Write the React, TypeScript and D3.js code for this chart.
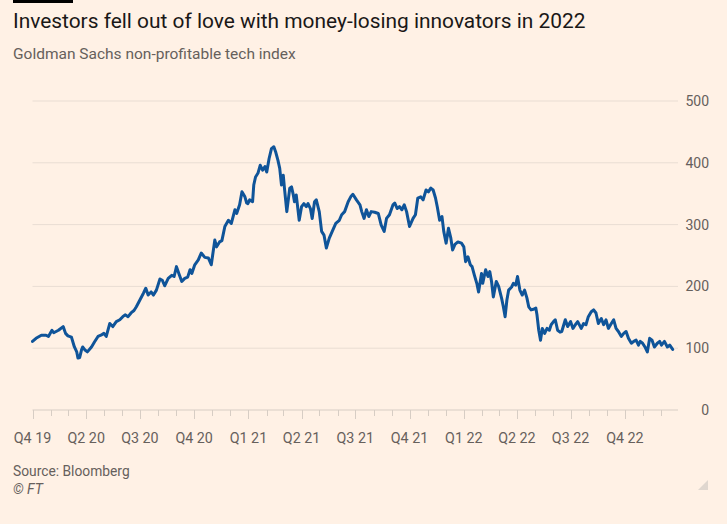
import React from "react";
import * as d3 from "d3";

// ---- data ----
const startDate = "2020-01-01";
// days since startDate
const dayOffsets = [
  0, 6, 15, 23, 27, 33, 36, 44, 52, 56, 60, 66, 71, 75, 77, 80, 83, 85, 89, 93,
  100, 105, 111, 116, 121, 125, 131, 136, 142, 148, 153, 157, 162, 167, 172, 176, 182,
  188, 192, 196, 201, 205, 210, 216, 220, 224, 230, 236, 240, 244, 248, 253, 258, 263,
  267, 270, 275, 281, 286, 292, 298, 303, 309, 312, 317, 321, 326, 332, 337, 343, 346,
  351, 355, 360, 363, 365, 368, 373, 375, 378, 382, 386, 390, 394, 397, 401, 405, 409,
  412, 416, 419, 422, 425, 427, 431, 436, 439, 442, 444, 447, 452, 456, 460, 464, 467,
  471, 474, 478, 481, 486, 490, 494, 498, 503, 508, 514, 520, 524, 529, 535, 540, 543,
  549, 555, 558, 562, 566, 570, 574, 580, 586, 591, 596, 600, 605, 611, 614, 618, 622,
  626, 630, 634, 639, 645, 649, 653, 658, 662, 667, 671, 675, 679, 683, 686, 690, 694,
  697, 701, 705, 709, 712, 716, 721, 727, 731, 734, 738, 742, 745, 749, 753, 756, 761,
  763, 768, 772, 775, 778, 781, 786, 790, 795, 798, 801, 804, 807, 812, 815, 819, 822,
  826, 830, 834, 838, 841, 845, 849, 853, 855, 858, 861, 864, 868, 872, 876, 879, 883,
  886, 890, 894, 897, 903, 907, 912, 916, 920, 924, 930, 934, 938, 942, 947, 951, 955,
  959, 964, 968, 972, 976, 981, 985, 989, 993, 998, 1002, 1006, 1010, 1015, 1019, 1023,
  1027, 1030, 1034, 1038, 1042, 1046, 1050, 1054, 1059, 1063, 1066, 1071, 1076, 1080, 1085,
];
const indexValues = [
  111, 116, 121, 121, 119, 129, 125, 129, 135, 124, 120, 118, 102, 94, 84, 85, 97, 102, 97, 94,
  102, 110, 119, 121, 124, 119, 140, 135, 143, 146, 151, 154, 151, 157, 161, 167, 178,
  189, 197, 186, 191, 186, 194, 212, 210, 201, 213, 218, 216, 232, 221, 208, 213, 215,
  227, 221, 235, 243, 254, 247, 246, 235, 275, 264, 272, 274, 297, 307, 302, 324, 318,
  332, 353, 345, 335, 334, 340, 337, 364, 377, 383, 396, 388, 394, 385, 407, 423, 426,
  418, 404, 391, 364, 380, 359, 321, 359, 361, 348, 337, 348, 307, 329, 334, 329, 334,
  326, 310, 337, 340, 321, 289, 283, 262, 278, 289, 302, 307, 316, 321, 337, 346, 349,
  340, 332, 321, 310, 324, 313, 321, 320, 318, 299, 289, 310, 316, 332, 335, 326, 329,
  324, 332, 321, 297, 310, 316, 343, 345, 340, 356, 353, 359, 356, 343, 329, 307, 313,
  289, 270, 294, 278, 259, 268, 272, 270, 264, 240, 248, 235, 232, 218, 205, 191, 221,
  205, 227, 216, 224, 208, 183, 208, 200, 181, 167, 151, 178, 194, 199, 205, 202, 216,
  194, 186, 194, 181, 167, 162, 163, 165, 154, 129, 113, 132, 124, 132, 129, 138, 143,
  146, 129, 126, 127, 146, 135, 143, 132, 138, 143, 132, 140, 138, 151, 159, 162, 157,
  140, 148, 138, 146, 132, 140, 146, 132, 127, 119, 124, 127, 116, 108, 111, 113,
  105, 111, 108, 102, 94, 116, 113, 102, 108, 111, 105, 111, 102, 105, 98,
];
const yTicks = [0, 100, 200, 300, 400, 500];
const xTickDates = [
  "2020-01-01", "2020-04-01", "2020-07-01", "2020-10-01", "2021-01-01", "2021-04-01",
  "2021-07-01", "2021-10-01", "2022-01-01", "2022-04-01", "2022-07-01", "2022-10-01",
];
const xTickLabels = [
  "Q4 19", "Q2 20", "Q3 20", "Q4 20", "Q1 21", "Q2 21",
  "Q3 21", "Q4 21", "Q1 22", "Q2 22", "Q3 22", "Q4 22",
];
const title = "Investors fell out of love with money-losing innovators in 2022";
const subtitle = "Goldman Sachs non-profitable tech index";
const source = "Source: Bloomberg";
const credit = "© FT";

const W = 727;
const H = 524;
const FONT = "Roboto, 'Noto Sans', sans-serif";

export default function App() {
  const parse = d3.utcParse("%Y-%m-%d");
  const start = parse(startDate) as Date;
  const data = dayOffsets.map((d, i) => ({
    date: d3.utcDay.offset(start, d),
    value: indexValues[i],
  }));

  const x = d3
    .scaleUtc()
    .domain([start, parse("2022-12-30") as Date])
    .range([32.5, 678]);
  const y = d3.scaleLinear().domain([0, 500]).range([410, 101]);

  const line = d3
    .line<{ date: Date; value: number }>()
    .x((d) => x(d.date))
    .y((d) => y(d.value));

  const monthTicks = d3.utcMonth.range(start, parse("2023-01-01") as Date);
  const majorSet = new Set(xTickDates);
  const fmt = d3.utcFormat("%Y-%m-%d");

  const [x0, x1] = x.range();

  return (
    <svg
      width={W}
      height={H}
      style={{ position: "absolute", left: 0, top: 0, display: "block" }}
      fontFamily={FONT}
    >
      <rect x={0} y={0} width={W} height={H} fill="#fff1e5" />
      <rect x={13} y={0} width={60} height={3} fill="#000" />
      <text x={13} y={28} fontSize={20.9} fill="#1a1817">
        {title}
      </text>
      <text x={13} y={58.5} fontSize={15.5} fill="#66605c">
        {subtitle}
      </text>

      {yTicks.map((t) => (
        <g key={t}>
          {t !== 0 && (
            <line x1={x0} x2={x1} y1={y(t)} y2={y(t)} stroke="#e9ddd3" strokeWidth={1} />
          )}
          <text
            x={709}
            y={y(t)}
            dy="0.35em"
            textAnchor="end"
            fontSize={14}
            fill="#66605c"
          >
            {t}
          </text>
        </g>
      ))}

      <line x1={x0} x2={x1} y1={y(0)} y2={y(0)} stroke="#d7cdc4" strokeWidth={1} />
      {monthTicks.map((m) => {
        const major = majorSet.has(fmt(m));
        const xx = Math.round(x(m)) + 0.5;
        return (
          <line
            key={m.toISOString()}
            x1={xx}
            x2={xx}
            y1={y(0)}
            y2={y(0) + (major ? 9 : 6)}
            stroke="#d7cdc4"
            strokeWidth={1}
          />
        );
      })}
      {xTickDates.map((d, i) => (
        <text
          key={d}
          x={x(parse(d) as Date)}
          y={443}
          textAnchor="middle"
          fontSize={14.3}
          fill="#66605c"
        >
          {xTickLabels[i]}
        </text>
      ))}

      <path
        d={line(data) || ""}
        fill="none"
        stroke="#0f5499"
        strokeWidth={3}
        strokeLinejoin="round"
        strokeLinecap="round"
      />

      <text x={13} y={476} fontSize={13.8} fill="#66605c">
        {source}
      </text>
      <text x={13} y={494} fontSize={14} fontStyle="italic" fill="#66605c">
        {credit}
      </text>
      <path d="M708,480 L708,490 L698,490 Z" fill="#e0d7cf" />
    </svg>
  );
}
